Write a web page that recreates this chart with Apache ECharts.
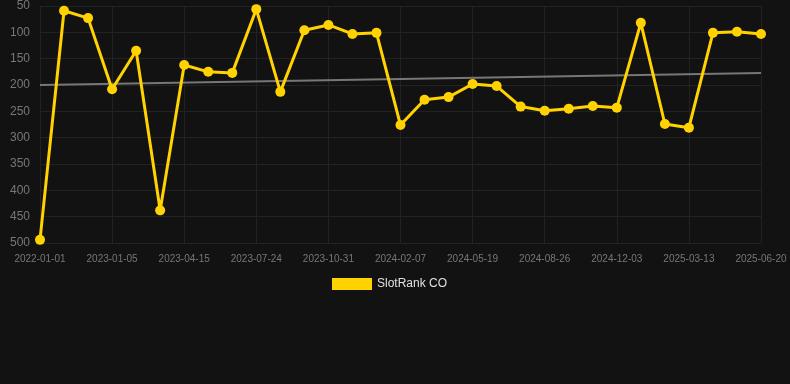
<!DOCTYPE html>
<html>
<head>
<meta charset="utf-8">
<script src="https://cdn.jsdelivr.net/npm/echarts@6/dist/echarts.min.js"></script>
<style>
  html, body { margin: 0; padding: 0; background: #121212; }
  #chart { width: 790px; height: 384px; }
</style>
</head>
<body>
<div id="chart"></div>
<script>
// categories (only every third date is shown on the axis)
var dates = [
  "2022-01-01", "2022-10-30", "2022-12-02",
  "2023-01-05", "2023-02-07", "2023-03-12",
  "2023-04-15", "2023-05-18", "2023-06-20",
  "2023-07-24", "2023-08-26", "2023-09-28",
  "2023-10-31", "2023-12-03", "2024-01-05",
  "2024-02-07", "2024-03-11", "2024-04-15",
  "2024-05-19", "2024-06-21", "2024-07-24",
  "2024-08-26", "2024-09-28", "2024-10-31",
  "2024-12-03", "2025-01-05", "2025-02-08",
  "2025-03-13", "2025-04-15", "2025-05-18",
  "2025-06-20"
]
// SlotRank CO positions (lower is better, axis inverted)
var slotRank = [
  494, 59, 73, 208, 135, 438, 162, 175, 177, 56,
  213, 96, 86, 103, 101, 276, 228, 223, 198, 202,
  241, 249, 245, 240, 243, 82, 274, 281, 101, 99,
  103
]
// trend line end points
var trendStart = 200
var trendEnd = 177

var trend = dates.map(function(d, i) {
  if (i === 0) return trendStart
  if (i === dates.length - 1) return trendEnd
  return null
})

var chart = echarts.init(document.getElementById("chart"))
chart.setOption({
  backgroundColor: "#121212",
  animation: false,
  grid: {
    left: 40,
    right: 29,
    top: 6,
    bottom: 141
  },
  legend: {
    top: 273,
    left: 327,
    itemWidth: 40,
    itemHeight: 12,
    itemGap: 10,
    data: [{ name: "SlotRank CO", icon: "rect" }],
    textStyle: { color: "#e0e0e0", fontSize: 12 }
  },
  xAxis: {
    type: "category",
    boundaryGap: false,
    data: dates,
    axisLine: { show: false },
    axisTick: { show: false },
    axisLabel: {
      interval: 2,
      color: "#777777",
      fontSize: 10,
      margin: 11
    },
    splitLine: {
      show: true,
      interval: 2,
      lineStyle: { color: "#222222", width: 1 }
    }
  },
  yAxis: {
    type: "value",
    inverse: true,
    min: 50,
    max: 500,
    interval: 50,
    axisLine: { show: false },
    axisTick: { show: false },
    axisLabel: {
      color: "#777777",
      fontSize: 12,
      margin: 10
    },
    splitLine: {
      lineStyle: { color: "#222222", width: 1 }
    }
  },
  series: [
    {
      name: "Trend",
      type: "line",
      data: trend,
      connectNulls: true,
      symbol: "none",
      lineStyle: { color: "#777777", width: 2 },
      z: 1
    },
    {
      name: "SlotRank CO",
      type: "line",
      data: slotRank,
      color: "#FFD200",
      symbol: "circle",
      symbolSize: 10,
      lineStyle: { color: "#FFD200", width: 3 },
      itemStyle: { color: "#FFD200" },
      z: 2
    }
  ]
})
</script>
</body>
</html>
